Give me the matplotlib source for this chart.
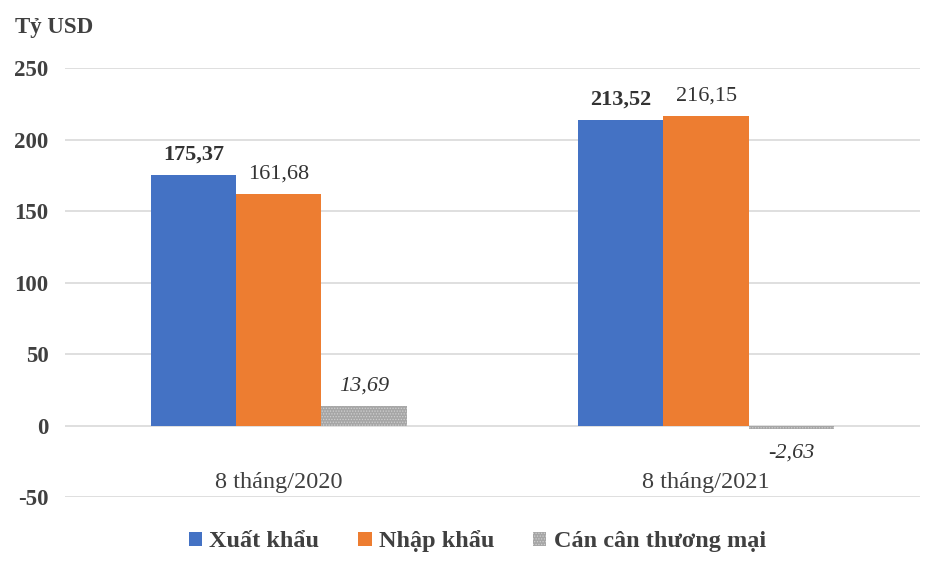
import matplotlib
matplotlib.use("Agg")
from matplotlib import pyplot as plt
from matplotlib.patches import Patch
import numpy as np

plt.rcParams['font.family'] = ['Liberation Serif', 'DejaVu Serif']
plt.rcParams['hatch.linewidth'] = 0.6
plt.rcParams['axes.unicode_minus'] = False

categories = ["8 tháng/2020", "8 tháng/2021"]
xuat_khau = [175.37, 213.52]
nhap_khau = [161.68, 216.15]
can_can = [13.69, -2.63]
series_names = ["Xuất khẩu", "Nhập khẩu", "Cán cân thương mại"]
label_weights = ["bold", "normal", "normal"]
label_styles = ["normal", "normal", "italic"]
y_ticks = [-50, 0, 50, 100, 150, 200, 250]

text_color = "#404040"

fig = plt.figure(figsize=(9.45, 5.73), dpi=100)
ax = fig.add_axes([0.0688, 0.1326, 0.9047, 0.7487])

x = np.arange(len(categories))
width = 0.2
series = [xuat_khau, nhap_khau, can_can]
offsets = [-0.2, 0.0, 0.2]

ax.set_axisbelow(True)
ax.grid(axis="y", color="#d9d9d9", linewidth=1.2)

ax.bar(x + offsets[0], xuat_khau, width, color="#4472C4")
ax.bar(x + offsets[1], nhap_khau, width, color="#ED7D31")
ax.bar(x + offsets[2], can_can, width, color="#a6a6a6",
       hatch="......", edgecolor="#cfcfcf", linewidth=0)

for k, vals in enumerate(series):
    for i, v in enumerate(vals):
        txt = ("%.2f" % v).replace(".", ",")
        dy = 7.5 if v >= 0 else -10
        ax.annotate(txt, (x[i] + offsets[k], v), xytext=(0, dy),
                    textcoords="offset points", ha="center",
                    va="bottom" if v >= 0 else "top",
                    fontsize=16, color="#333333",
                    fontweight=label_weights[k], fontstyle=label_styles[k])

for i, c in enumerate(categories):
    ax.annotate(c, (x[i], 0), xytext=(0, -41), textcoords="offset points",
                ha="center", va="center", fontsize=17.5, color="#404040")

ax.set_xlim(-0.5, 1.5)
ax.set_ylim(-50, 250)
ax.set_yticks(y_ticks)
ax.set_xticks([])
ax.tick_params(axis="y", length=0, pad=12, labelsize=16.5, labelcolor=text_color)
for t in ax.get_yticklabels():
    t.set_fontweight("bold")
for s in ax.spines.values():
    s.set_visible(False)

fig.text(0.016, 0.952, "Tỷ USD", fontsize=16.5, fontweight="bold",
         color=text_color, va="center")

handles = [Patch(facecolor="#4472C4"), Patch(facecolor="#ED7D31"),
           Patch(facecolor="#a6a6a6", hatch="......", edgecolor="#cfcfcf", linewidth=0)]
leg = fig.legend(handles, series_names, loc="center", bbox_to_anchor=(0.505, 0.055),
                 ncol=3, frameon=False, handlelength=0.55, handleheight=0.55,
                 handletextpad=0.3, columnspacing=1.6,
                 prop={"size": 17.5, "weight": "bold"})
for t in leg.get_texts():
    t.set_color(text_color)

fig.savefig("out.png", dpi=100)
